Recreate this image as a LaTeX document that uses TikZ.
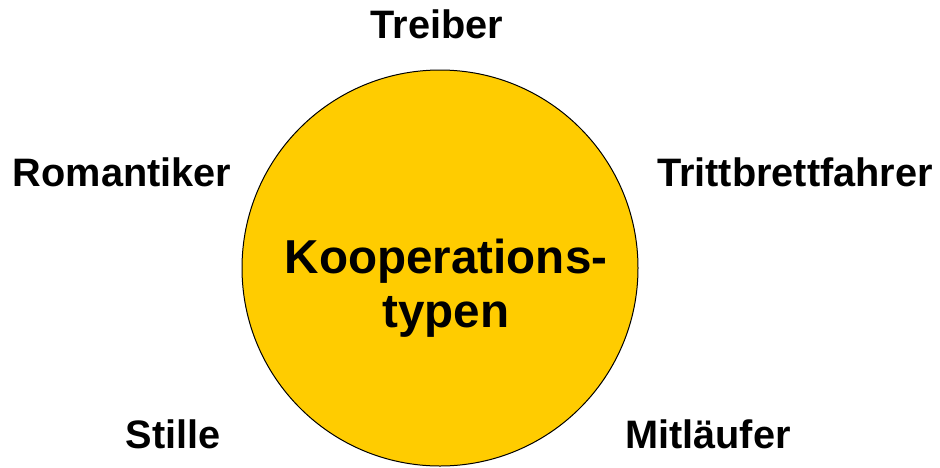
\documentclass[tikz,border=0pt]{standalone}
\usepackage{fontspec}
\setmainfont{Liberation Sans}
\definecolor{gold}{HTML}{FFCC00}
\begin{document}
\begin{tikzpicture}[x=1pt,y=-1pt,
  lbl/.style={anchor=base,inner sep=0pt,font=\fontsize{39.7}{44}\selectfont\bfseries},
  ctr/.style={inner sep=0pt,align=center,font=\fontsize{47.6}{54}\selectfont\bfseries}]
\useasboundingbox (0,0) rectangle (940,467);
\node[circle,draw=black,line width=1pt,fill=gold,minimum size=396pt,inner sep=0pt] (circ) at (440,268) {};
\node[ctr] (typ) at (446,288) {Kooperations-\\typen};
\node[lbl] (treiber) at (437,38) {Treiber};
\node[lbl] (rom) at (122,186) {Romantiker};
\node[lbl] (tritt) at (795,186) {Trittbrettfahrer};
\node[lbl] (stille) at (173,448) {Stille};
\node[lbl] (mit) at (708,448) {Mitläufer};
\end{tikzpicture}
\end{document}
